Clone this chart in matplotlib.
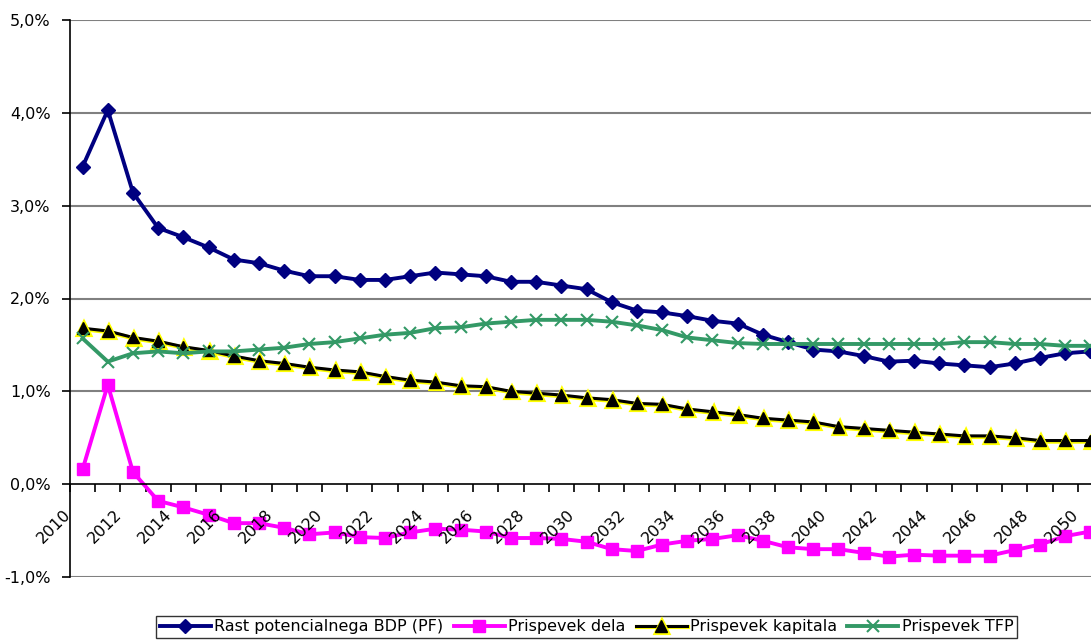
import matplotlib.pyplot as plt
import matplotlib.patheffects as pe
import matplotlib.transforms as mtransforms
from matplotlib.ticker import FuncFormatter
import numpy as np

# leta 2010-2050
years = np.arange(2010, 2051)

# rast potencialnega BDP (v %)
rast_bdp = [3.42, 4.03, 3.14, 2.76, 2.66, 2.55, 2.42, 2.38, 2.30, 2.24,
            2.24, 2.20, 2.20, 2.24, 2.28, 2.26, 2.24, 2.18, 2.18, 2.14,
            2.10, 1.96, 1.87, 1.85, 1.81, 1.76, 1.73, 1.61, 1.53, 1.45,
            1.43, 1.38, 1.32, 1.33, 1.30, 1.28, 1.26, 1.30, 1.36, 1.41,
            1.43]
prispevek_dela = [0.16, 1.07, 0.13, -0.18, -0.25, -0.33, -0.42, -0.42, -0.47, -0.54,
                  -0.52, -0.57, -0.58, -0.52, -0.48, -0.49, -0.51, -0.58, -0.58, -0.59,
                  -0.62, -0.70, -0.72, -0.65, -0.61, -0.59, -0.55, -0.61, -0.68, -0.70,
                  -0.70, -0.74, -0.78, -0.76, -0.77, -0.77, -0.77, -0.71, -0.65, -0.56,
                  -0.51]
prispevek_kapitala = [1.68, 1.65, 1.58, 1.54, 1.48, 1.44, 1.38, 1.33, 1.30, 1.26,
                      1.23, 1.21, 1.16, 1.12, 1.10, 1.06, 1.05, 1.00, 0.98, 0.96,
                      0.93, 0.91, 0.87, 0.86, 0.81, 0.78, 0.75, 0.71, 0.69, 0.67,
                      0.62, 0.60, 0.58, 0.56, 0.54, 0.52, 0.52, 0.50, 0.47, 0.47,
                      0.47]
prispevek_tfp = [1.57, 1.32, 1.41, 1.43, 1.41, 1.43, 1.43, 1.45, 1.47, 1.51,
                 1.53, 1.57, 1.61, 1.63, 1.68, 1.69, 1.73, 1.75, 1.77, 1.77,
                 1.77, 1.75, 1.71, 1.66, 1.58, 1.55, 1.52, 1.51, 1.51, 1.51,
                 1.51, 1.51, 1.51, 1.51, 1.51, 1.53, 1.53, 1.51, 1.51, 1.49,
                 1.49]

labels = ['Rast potencialnega BDP (PF)', 'Prispevek dela',
          'Prispevek kapitala', 'Prispevek TFP']

fig = plt.figure(figsize=(10.91, 6.42), dpi=100)
ax = fig.add_axes([70/1091, 65/642, 1033/1091, 557/642])

ax.plot(years, rast_bdp, color='#000080', lw=2.8, marker='D', ms=7.5,
        label=labels[0])
ax.plot(years, prispevek_dela, color='#FF00FF', lw=2.8, marker='s', ms=8,
        label=labels[1])
ax.plot(years, prispevek_kapitala, color='black', lw=2.2, marker='^', ms=8.5,
        label=labels[2],
        path_effects=[pe.Stroke(linewidth=3, foreground='yellow', offset=(0.8, -0.8)),
                      pe.Normal()])
ax.plot(years, prispevek_tfp, color='#339966', lw=2.8, marker='x', ms=9,
        mew=1.5, label=labels[3])

ax.set_xlim(2009.5, 2050.5)
ax.set_ylim(-1.0, 5.0)

# mreža
ax.set_yticks(np.arange(-1, 6, 1))
ax.yaxis.set_major_formatter(FuncFormatter(lambda v, p: ('%.1f%%' % v).replace('.', ',')))
for yv in range(1, 6):
    ax.axhline(yv, color='#808080', lw=1.5, zorder=0)
ax.axhline(-1, color='#808080', lw=1.5, zorder=0)

for s in ['top', 'right']:
    ax.spines[s].set_visible(False)
ax.spines['bottom'].set_position(('data', 0))
ax.spines['bottom'].set_linewidth(1.2)
ax.spines['left'].set_linewidth(1.2)

ax.tick_params(axis='y', direction='out', length=6, width=1.2, labelsize=11.5, pad=8)

# x os: tick črtice med kategorijami, oznake na vsakem drugem letu
ax.set_xticks([])
ax.set_xticks(np.arange(2009.5, 2051, 1), minor=True)
ax.tick_params(axis='x', which='minor', direction='out', length=6, width=1.2,
               labelbottom=False)
off = mtransforms.ScaledTranslation(-14/100, -28/100, fig.dpi_scale_trans)
for y in years[::2]:
    ax.text(y, 0, str(y), transform=ax.transData + off, rotation=45,
            rotation_mode='anchor', ha='right', va='center', fontsize=11.5,
            clip_on=False)

leg = fig.legend(loc='center', bbox_to_anchor=(586.5/1091, 15/642), ncol=4,
                 frameon=True, fancybox=False, edgecolor='black',
                 prop={'family': ['Liberation Sans Narrow', 'DejaVu Sans'], 'size': 11.5},
                 handlelength=3.2, handletextpad=0.2, columnspacing=0.65,
                 borderpad=0.25, borderaxespad=0)
leg.get_frame().set_linewidth(1.0)

fig.savefig('out.png', dpi=100)
